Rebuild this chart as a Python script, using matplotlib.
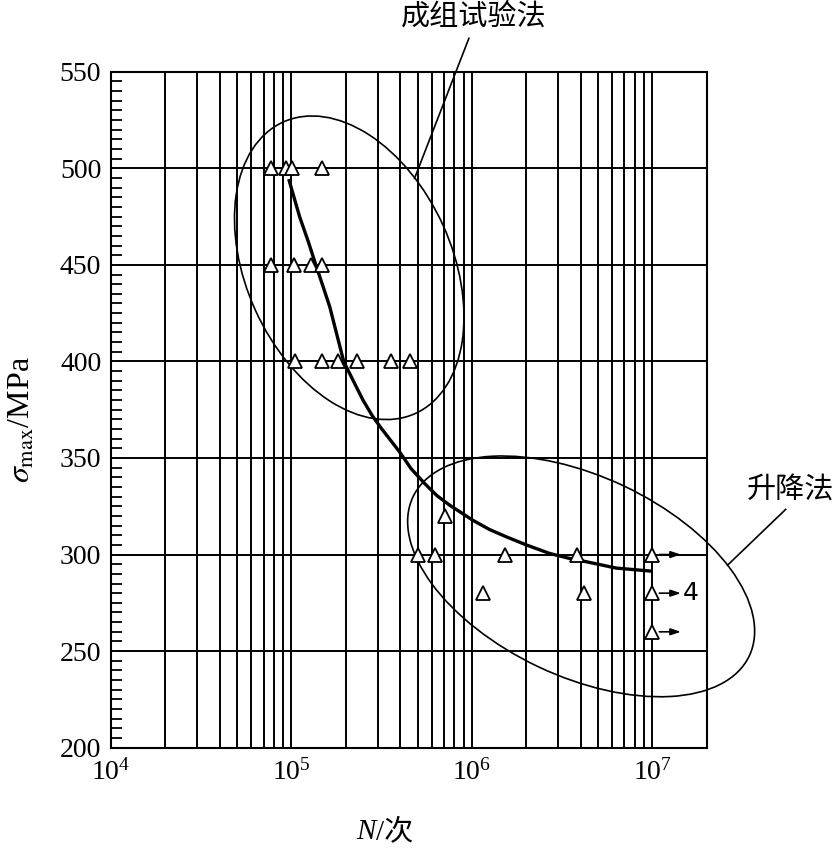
import numpy as np
import matplotlib.pyplot as plt
import matplotlib.transforms as mtransforms
from matplotlib.patches import Ellipse
from matplotlib.ticker import FixedLocator, NullFormatter, LogLocator

plt.rcParams['font.family'] = ['Liberation Serif', 'Noto Sans CJK SC']
plt.rcParams['mathtext.fontset'] = 'stix'

CJK = ['Noto Sans CJK SC', 'Liberation Serif']

# test results: cycles to failure N at each stress level (MPa)
n_500 = [7.7e4, 9.3e4, 1.01e5, 1.48e5]
n_450 = [7.7e4, 1.03e5, 1.28e5, 1.48e5]
n_400 = [1.04e5, 1.48e5, 1.81e5, 2.32e5, 3.54e5, 4.56e5]
n_320 = [7.05e5]
n_300 = [5.0e5, 6.26e5, 1.53e6, 3.83e6, 1.0e7]
n_280 = [1.15e6, 4.2e6, 1.0e7]
n_260 = [1.0e7]

# run-outs at 1e7 cycles (drawn with an arrow)
runout_s = [300, 280, 260]
runout_n = 1.0e7
runout_end = 1.44e7

# fitted S-N curve
curve_n = [9.66e4, 1.11e5, 1.24e5, 1.37e5, 1.50e5, 1.63e5, 1.95e5, 2.20e5,
           2.49e5, 2.80e5, 3.15e5, 3.97e5, 4.6e5, 5.47e5, 6.4e5, 7.52e5,
           1.01e6, 1.25e6, 1.55e6, 2.0e6, 2.69e6, 3.4e6, 4.3e6, 6.3e6, 9.9e6]
curve_s = [494.4, 474.9, 462.0, 449.5, 438.5, 428.3, 399.8, 390.0,
           380.0, 372.0, 365.3, 353.2, 344.5, 336.8, 330.5, 325.6,
           317.8, 313.0, 309.2, 305.0, 300.6, 298.2, 296.3, 293.0, 291.4]

fig = plt.figure(figsize=(8.39, 8.48), dpi=100)
ax = fig.add_axes([0.1323, 0.1183, 0.71, 0.7971])

ax.set_xscale('log')
ax.set_xlim(1e4, 2e7)
ax.set_ylim(200, 550)

# grid
ax.xaxis.set_major_locator(FixedLocator([1e4, 1e5, 1e6, 1e7]))
ax.xaxis.set_minor_locator(LogLocator(base=10, subs=np.arange(2, 10), numticks=20))
ax.xaxis.set_minor_formatter(NullFormatter())
ax.grid(True, which='both', axis='x', color='black', lw=1.4)
ax.yaxis.set_major_locator(FixedLocator(np.arange(200, 551, 50)))
ax.yaxis.set_minor_locator(FixedLocator(np.arange(200, 551, 5)))
ax.grid(True, which='major', axis='y', color='black', lw=1.4)
ax.set_axisbelow(True)

ax.tick_params(axis='x', which='both', length=0, pad=8, labelsize=20)
ax.tick_params(axis='y', which='major', length=0, pad=7, labelsize=20)
ax.tick_params(axis='y', which='minor', direction='in', length=8, width=1.3)
for sp in ax.spines.values():
    sp.set_linewidth(1.5)

# points
tri = dict(marker='^', ms=10, mfc='white', mec='black', mew=1.3,
           ls='none', zorder=4)
for s, ns in [(500, n_500), (450, n_450), (400, n_400), (320, n_320),
              (300, n_300), (280, n_280), (260, n_260)]:
    ax.plot(ns, [s] * len(ns), **tri)

for s in runout_s:
    ax.annotate('', xy=(runout_end, s), xytext=(runout_n, s),
                arrowprops=dict(arrowstyle='-|>,head_length=0.6,head_width=0.2',
                                color='black', lw=1.2, shrinkA=5, shrinkB=0),
                zorder=5)
ax.text(1.47e7, 280, '4', fontsize=18, family='DejaVu Sans',
        ha='left', va='center')

ax.plot(curve_n, curve_s, color='black', lw=2.4, zorder=3,
        solid_capstyle='butt', solid_joinstyle='round')


# ellipses, sized in inches around a data point
def ring(n, s, w, h, ang):
    tr = fig.dpi_scale_trans + mtransforms.ScaledTranslation(n, s, ax.transData)
    e = Ellipse((0, 0), w, h, angle=ang, transform=tr, fill=False,
                ec='black', lw=1.2, clip_on=False, zorder=3)
    ax.add_patch(e)


ring(2.09e5, 448.5, 3.20, 2.06, -65.6)
ring(4.03e6, 288.7, 3.72, 2.00, -25.3)

# leader lines and labels
ax.plot([4.81e5, 9.62e5], [494.8, 567.3], color='black', lw=1.2, clip_on=False)
ax.text(1.03e6, 578.6, '成组试验法', fontsize=21, family=CJK,
        ha='center', va='center')
ax.plot([2.61e7, 5.48e7], [294.5, 323.4], color='black', lw=1.2, clip_on=False)
ax.text(3.35e7, 333.4, '升降法', fontsize=21, family=CJK,
        ha='left', va='center')

ax.set_xlim(1e4, 2e7)
ax.set_ylim(200, 550)

# axis labels
ax.text(-0.149, 0.486, r'$\sigma_{\mathrm{max}}$/MPa', transform=ax.transAxes,
        fontsize=23, rotation=90, ha='center', va='center')
ax.text(0.445, -0.125, 'N', transform=ax.transAxes, fontsize=21,
        style='italic', family='Liberation Serif', ha='right', va='center')
ax.text(0.445, -0.125, '/次', transform=ax.transAxes, fontsize=21,
        family=['Liberation Serif', 'Noto Sans CJK SC'], ha='left', va='center')

fig.savefig('out.png', dpi=100)
